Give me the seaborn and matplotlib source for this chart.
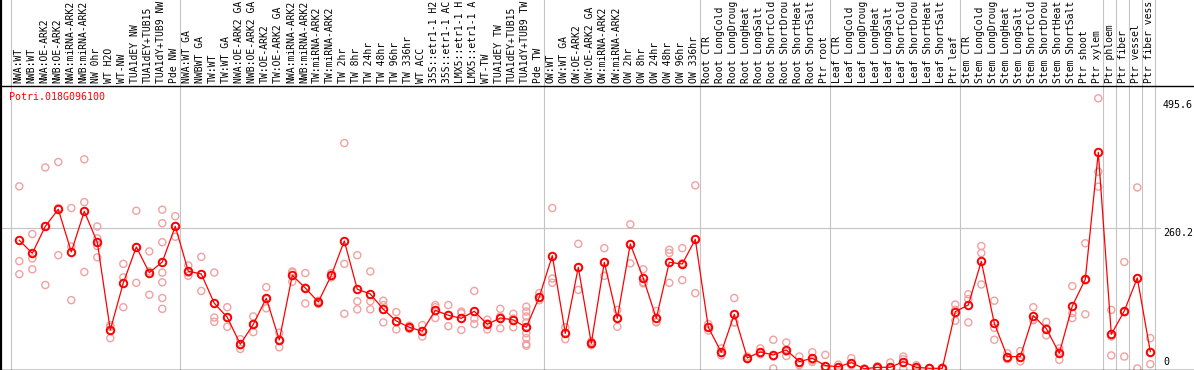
import numpy as np
import pandas as pd
import matplotlib
matplotlib.use("Agg")
import matplotlib.pyplot as plt
import matplotlib.transforms as mtransforms
import seaborn as sns

gene = "Potri.018G096100"

samples = [
    "NWA:WT", "NWB:WT", "NWA:OE-ARK2", "NWB:OE-ARK2", "NWA:miRNA-ARK2", "NWB:miRNA-ARK2",
    "NW 0hr", "WT H2O", "WT-NW", "TUA1dEY NW", "TUA1dEY+TUB15 NW", "TUA1dY+TUB9 NW", "Pde NW",
    "NWA:WT GA", "NWBWT GA", "TW:WT", "TW:WT GA", "NWA:OE-ARK2 GA", "NWB:OE-ARK2 GA",
    "TW:OE-ARK2", "TW:OE-ARK2 GA", "NWA:miRNA-ARK2", "NWB:miRNA-ARK2", "TW:miRNA-ARK2",
    "TW:miRNA-ARK2", "TW 2hr", "TW 8hr", "TW 24hr", "TW 48hr", "TW 96hr", "TW 336hr", "WT ACC",
    "35S::etr1-1 H2O", "35S::etr1-1 ACC", "LMX5::etr1-1 H2O", "LMX5::etr1-1 ACC", "WT-TW",
    "TUA1dEY TW", "TUA1dEY+TUB15 TW", "TUA1dY+TUB9 TW", "Pde TW",
    "OW:WT", "OW:WT GA", "OW:OE-ARK2", "OW:OE-ARK2 GA", "OW:miRNA-ARK2", "OW:miRNA-ARK2",
    "OW 2hr", "OW 8hr", "OW 24hr", "OW 48hr", "OW 96hr", "OW 336hr",
    "Root CTR", "Root LongCold", "Root LongDrought", "Root LongHeat", "Root LongSalt",
    "Root ShortCold", "Root ShortDrought", "Root ShortHeat", "Root ShortSalt", "Ptr root",
    "Leaf CTR", "Leaf LongCold", "Leaf LongDrought", "Leaf LongHeat", "Leaf LongSalt",
    "Leaf ShortCold", "Leaf ShortDrought", "Leaf ShortHeat", "Leaf ShortSalt", "Ptr leaf",
    "Stem CTR", "Stem LongCold", "Stem LongDrought", "Stem LongHeat", "Stem LongSalt",
    "Stem ShortCold", "Stem ShortDrought", "Stem ShortHeat", "Stem ShortSalt", "Ptr shoot",
    "Ptr xylem", "Ptr phloem", "Ptr fiber", "Ptr vessel", "Ptr fiber vessel",
]

means = [
    237.5, 213.5, 263.3, 294.7, 216.0, 291.0, 233.8, 72.0, 158.8, 225.2, 177.8, 197.5, 263.3,
    180.3, 175.4, 121.2, 95.4, 45.6, 82.5, 130.5, 53.6, 172.9, 149.5, 123.7, 172.9, 236.3,
    147.1, 138.5, 110.2, 88.6, 77.0, 69.6, 108.3, 99.1, 93.6, 106.5, 82.5, 94.2, 90.5, 77.0,
    132.9, 209.2, 65.9, 187.7, 47.4, 196.9, 93.6, 230.7, 167.4, 93.6, 196.9, 193.8, 239.3,
    77.0, 30.8, 101.0, 20.4, 31.4, 25.9, 35.1, 13.6, 19.8, 6.2,
    4.3, 11.7, 0.4, 3.1, 3.1, 13.6, 3.1, 1.3, 1.3, 105.8,
    118.2, 198.7, 84.3, 22.8, 22.8, 98.5, 74.5, 29.0, 116.3, 165.5, 399.9,
    64.0, 107.1, 168.0, 32.0,
]

replicates = [
    [337, 199, 175], [249, 204, 184], [372, 263, 155], [382, 297, 210], [226, 297, 127],
    [387, 308, 179], [263, 241, 227, 206], [81, 78, 57], [194, 169, 114], [292, 225, 159],
    [217, 180, 137], [294, 269, 234, 178, 160, 131, 111], [282, 264, 244],
    [191, 178, 172], [207, 175, 144], [178, 95, 87], [114, 94, 78], [55, 44, 37],
    [97, 83, 68], [151, 129, 112], [67, 54, 40], [180, 178, 161], [177, 150, 121],
    [126, 125, 120], [177, 172, 169], [417, 194, 102], [210, 125, 110], [180, 125, 110],
    [126, 118, 86], [105, 87, 73], [80, 77, 74], [81, 69, 60], [118, 114, 94],
    [118, 100, 79], [106, 103, 72], [144, 93, 83], [91, 84, 73], [111, 97, 75],
    [102, 93, 77], [115, 106, 97, 86, 77, 66, 57, 46, 43], [140, 132, 127],
    [297, 167, 159], [77, 66, 55], [231, 187, 146], [51, 48, 44], [223, 196, 172],
    [109, 94, 78], [267, 230, 195], [184, 160, 158], [107, 87, 86], [220, 214, 159],
    [223, 195, 164], [339, 239, 140],
    [83, 77, 71], [38, 29, 25], [131, 86, 86], [23, 20, 18], [38, 29, 27], [54, 23, 1],
    [49, 32, 24], [23, 11, 7], [31, 16, 13], [26, 0, 0, 0],
    [8, 3, 2], [20, 8.5, 7], [1, 0, 0], [5, 3, 1], [12, 0, 0], [23, 18, 0], [7, 2.5, 0],
    [2, 1, 1], [2, 2, 0], [119, 109, 89],
    [138, 129, 86], [227, 214, 156], [126, 76, 54], [29, 21.5, 18], [33, 21.5, 14],
    [114, 91, 90], [87, 75, 62], [38, 32, 17], [153, 103, 94], [232, 163.5, 101],
    [499.5, 364, 336.5],
    [109, 60, 25], [197.5, 104.6, 23], [335, 167, 1], [57, 31, 9],
]

group_starts = [0, 13, 41, 53, 63, 73, 84, 85, 86, 87, 88]
scale_labels = ["495.6", "260.2", "0"]
scale_values = [495.6, 260.2, 0.0]

# ---------------------------------------------------------------- layout
W, H = 1194, 370
TOP = 86            # pixel row of the header separator
X0, DX = 19.3, 13.0  # pixel x of first sample, column pitch
ZERO_PX, PPU = 369.0, 0.5419  # pixel row of value 0, pixels per unit
HEADER_CHARS = 14   # the header band only has room for this many characters

RED = "#ff0000"
PINK = "#f2a0a0"
GREY = "#c4c4c4"
MONO = ["DejaVu Sans Mono"]
FS = 7.2
FS_HEAD = 7.0

plt.rcParams["font.family"] = MONO

fig = plt.figure(figsize=(W / 100, H / 100), dpi=100)
fig.patch.set_facecolor("white")
ax = fig.add_axes([1 / W, 0, (W - 1) / W, (H - TOP) / H])
ax.set_facecolor("none")

xpos = np.arange(len(samples))
ax.set_xlim((1 - X0) / DX, (W - X0) / DX)
ax.set_ylim(-(H - ZERO_PX) / PPU, (ZERO_PX - TOP) / PPU)

rep_df = pd.DataFrame(
    [(i, v) for i, reps in enumerate(replicates) for v in reps], columns=["x", "value"]
)
mean_df = pd.DataFrame({"x": xpos, "value": means})

# grid lines
head_frac = H / (H - TOP)
for g in group_starts:
    ax.axvline(g - 0.65, ymin=0, ymax=head_frac + 0.01, color=GREY, lw=0.8,
               clip_on=False, zorder=0.5)
ax.axhline(260.2, xmin=0, xmax=(1160 - 1) / (W - 1), color=GREY, lw=0.8, zorder=0.5)

sns.scatterplot(data=rep_df, x="x", y="value", ax=ax, marker="o", s=26,
                facecolor="none", edgecolor=PINK, linewidth=1.0, zorder=2,
                clip_on=False, legend=False)
sns.lineplot(data=mean_df, x="x", y="value", ax=ax, color=RED, lw=0.9,
             marker="o", markersize=5.4, markerfacecolor="none",
             markeredgecolor=RED, markeredgewidth=1.4, sort=False,
             estimator=None, zorder=3, clip_on=False, legend=False)

ax.set_xlabel("")
ax.set_ylabel("")
ax.set_xticks([])
ax.set_yticks([])

ax.spines["right"].set_visible(False)
ax.spines["left"].set_visible(False)
ax.spines["top"].set_linewidth(1.0)
ax.spines["bottom"].set_linewidth(1.0)
ax.axvline(ax.get_xlim()[0], ymin=0, ymax=head_frac + 0.01, color="black", lw=1.6,
           clip_on=False, zorder=4)

# header labels (cut to the room available in the header band)
trans = mtransforms.blended_transform_factory(ax.transData, ax.transAxes)
lab_y = (H - 83) / (H - TOP)
for i, name in enumerate(samples):
    ax.text(i - 0.1, lab_y, name[:HEADER_CHARS].rstrip(), transform=trans, rotation=90,
            ha="center", va="bottom", fontsize=FS_HEAD, color="black", clip_on=False)

# gene name
ax.text((9.3 - X0) / DX, (H - 91.5) / (H - TOP), gene, transform=trans, ha="left",
        va="top", fontsize=FS, color=RED)

# right-hand scale labels
lx = (1163 - X0) / DX
for lab, v in zip(scale_labels, scale_values):
    if v == 0:
        ax.annotate(lab, (lx, v), xytext=(0, 1.5), textcoords="offset points",
                    ha="left", va="bottom", fontsize=FS, color="black",
                    annotation_clip=False)
    else:
        ax.text(lx, v, lab, ha="left", va="top", fontsize=FS, color="black")

fig.savefig("out.png", dpi=100)
